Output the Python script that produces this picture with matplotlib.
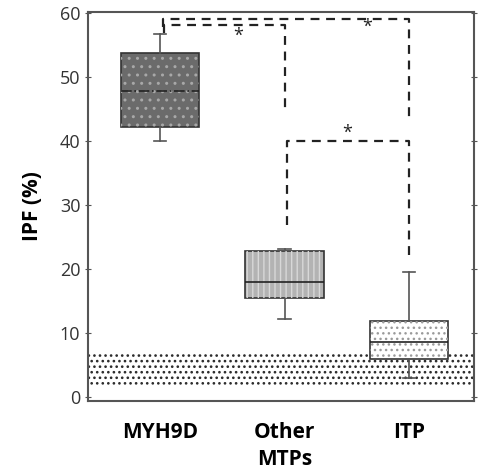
import numpy as np
import matplotlib.pyplot as plt
from matplotlib.patches import Rectangle

groups = ['MYH9D', 'Other\nMTPs', 'ITP']
whislo = [40.0, 12.2, 3.0]
q1 = [42.2, 15.5, 6.0]
med = [47.8, 18.0, 8.6]
q3 = [53.8, 22.8, 12.0]
whishi = [56.8, 23.2, 19.6]
normal_range = (1.7, 7.0)

face = ['#6b6b6b', '#b3b3b3', '#ffffff']
hatches = ['..', '|||', '...']
hatch_col = ['#a8a8a8', '#d8d8d8', '#9a9a9a']
med_style = ['-.', '-', '-']

# (x1, x2, y, left foot, right foot, star x, star y)
brackets = [
    (1.03, 2.0, 58.15, 56.9, 44.6, 1.63, 56.4),
    (1.02, 3.0, 59.1, 57.8, 43.0, 2.66, 57.8),
    (2.02, 3.0, 40.0, 26.9, 21.5, 2.5, 41.3),
]

plt.rcParams['font.family'] = ['Open Sans', 'DejaVu Sans']

fig = plt.figure(figsize=(4.81, 4.72), dpi=100)
ax = fig.add_axes([0.183, 0.150, 0.802, 0.825])

pos = np.arange(1, len(groups) + 1)
with plt.rc_context({'hatch.linewidth': 1.1}):
    band = ax.axhspan(normal_range[0], normal_range[1], facecolor='none',
                      edgecolor='#2a2a2a', hatch='...', lw=0, zorder=1)

stats = []
for i in range(len(groups)):
    stats.append(dict(whislo=whislo[i], q1=q1[i], med=med[i], q3=q3[i],
                      whishi=whishi[i], fliers=[]))

w = 0.63
bp = ax.bxp(stats, positions=pos, widths=w, patch_artist=True,
            showfliers=False, manage_ticks=False,
            boxprops=dict(edgecolor='#333333', lw=1.2),
            whiskerprops=dict(color='#555555', lw=1.2),
            capprops=dict(color='#555555', lw=1.2),
            medianprops=dict(color='#222222', lw=1.2),
            capwidths=0.1, zorder=3)
for i, b in enumerate(bp['boxes']):
    b.set_facecolor(face[i])
    b.set_zorder(3)
    ax.add_patch(Rectangle((pos[i] - w / 2, q1[i]), w, q3[i] - q1[i],
                           facecolor='none', edgecolor=hatch_col[i],
                           hatch=hatches[i], lw=0, zorder=3.5))
    bp['medians'][i].set_linestyle(med_style[i])
    bp['medians'][i].set_zorder(4)

dash = dict(color='#222222', lw=1.6, ls=(0, (4, 3)), zorder=5)
for x1, x2, y, f1, f2, sx, sy in brackets:
    ax.plot([x1, x1, x2, x2], [f1, y, y, f2], **dash)
    ax.text(sx, sy, '*', ha='center', va='center', fontsize=13,
            color='#222222')

ax.set_xlim(0.42, 3.52)
ax.set_ylim(-0.6, 60.2)
ax.set_yticks(np.arange(0, 61, 10))
ax.set_xticks(pos)
ax.set_xticklabels(groups, fontweight='bold', fontsize=15, linespacing=1.35)
ax.tick_params(axis='x', length=0, pad=15)
ax.tick_params(axis='y', labelsize=13, direction='inout', length=4,
               right=True, color='#555555', labelcolor='#333333')
ax.set_ylabel('IPF (%)', fontweight='bold', fontsize=15, labelpad=12)
for s in ax.spines.values():
    s.set_color('#555555')
    s.set_linewidth(1.5)

fig.savefig('out.png', dpi=100)
